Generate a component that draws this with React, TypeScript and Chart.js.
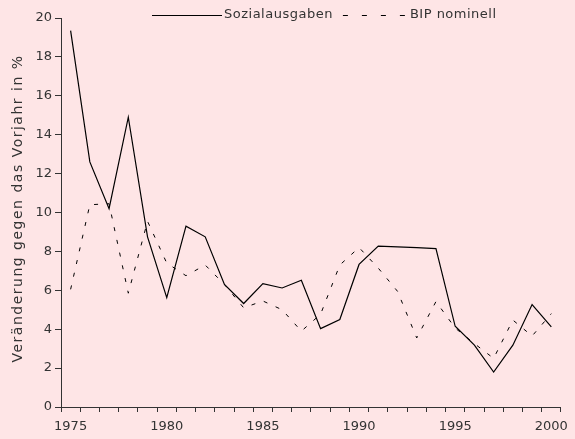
import React, { useEffect, useRef } from "react";
import { Chart, registerables } from "chart.js";

Chart.register(...registerables);

const years = [
  "1975", "1976", "1977", "1978", "1979", "1980", "1981", "1982", "1983", "1984",
  "1985", "1986", "1987", "1988", "1989", "1990", "1991", "1992", "1993", "1994",
  "1995", "1996", "1997", "1998", "1999", "2000",
];

const sozialausgaben = [
  19.35, 12.6, 10.2, 14.9, 8.75, 5.62, 9.3, 8.75, 6.3, 5.32,
  6.34, 6.12, 6.52, 4.03, 4.5, 7.33, 8.27, 8.23, 8.19, 8.14,
  4.15, 3.18, 1.8, 3.18, 5.27, 4.12,
];

const bipNominell = [
  6.05, 10.4, 10.45, 5.85, 9.55, 7.4, 6.75, 7.3, 6.3, 5.1,
  5.45, 5.0, 3.9, 4.77, 7.3, 8.2, 7.14, 5.95, 3.55, 5.42,
  4.06, 3.26, 2.5, 4.47, 3.65, 4.8,
];

const yTicks = [0, 2, 4, 6, 8, 10, 12, 14, 16, 18, 20];
const yTitle = "Veränderung gegen das Vorjahr in %";
const seriesNames = ["Sozialausgaben", "BIP nominell"];

const FONT = '"DejaVu Sans", sans-serif';
const TEXT = "#333333";
const AXIS = "#333333";
const BG = "#FEE5E6";

const legendPlugin = {
  id: "customLegend",
  afterDraw(chart: any) {
    const ctx = chart.ctx;
    ctx.save();
    ctx.font = `13px ${FONT}`;
    (ctx as any).letterSpacing = "0.5px";
    ctx.fillStyle = TEXT;
    ctx.textBaseline = "middle";
    const y = 15;
    let x = 152;
    chart.data.datasets.forEach((ds: any, i: number) => {
      const w = i === 0 ? 70 : 62;
      ctx.beginPath();
      ctx.setLineDash(i === 0 ? [] : [5, 14]);
      ctx.strokeStyle = "#000";
      ctx.lineWidth = 1;
      ctx.moveTo(x, y + 0.5);
      ctx.lineTo(x + w, y + 0.5);
      ctx.stroke();
      ctx.setLineDash([]);
      x += w + (i === 0 ? 2 : 5);
      ctx.fillText(ds.label, x, y);
      x += ctx.measureText(ds.label).width + 10;
    });
    ctx.restore();
  },
};

const yTitlePlugin = {
  id: "yTitle",
  afterDraw(chart: any) {
    const ctx = chart.ctx;
    const area = chart.chartArea;
    ctx.save();
    ctx.font = `14px ${FONT}`;
    (ctx as any).letterSpacing = "1.5px";
    ctx.fillStyle = TEXT;
    ctx.textAlign = "center";
    ctx.textBaseline = "middle";
    ctx.translate(18, (area.top + area.bottom) / 2 - 4);
    ctx.rotate(-Math.PI / 2);
    ctx.fillText(yTitle, 0, 0);
    ctx.restore();
  },
};

export default function App() {
  const ref = useRef<HTMLCanvasElement | null>(null);

  useEffect(() => {
    if (!ref.current) return;
    const chart = new Chart(ref.current, {
      type: "line",
      data: {
        labels: years,
        datasets: [
          {
            label: seriesNames[0],
            data: sozialausgaben,
            borderColor: "#000",
            borderWidth: 1.2,
            pointRadius: 0,
            tension: 0,
            fill: false,
          },
          {
            label: seriesNames[1],
            data: bipNominell,
            borderColor: "#000",
            borderWidth: 1,
            borderDash: [4, 9],
            pointRadius: 0,
            tension: 0,
            fill: false,
          },
        ],
      },
      options: {
        animation: false,
        responsive: false,
        maintainAspectRatio: false,
        layout: { padding: { top: 18, right: 7, left: 0, bottom: 0 } },
        plugins: {
          legend: { display: false },
          tooltip: { enabled: false },
        },
        scales: {
          x: {
            type: "category",
            offset: true,
            grid: {
              offset: true,
              drawOnChartArea: false,
              tickLength: 5,
              color: AXIS,
              lineWidth: 1,
            },
            border: { color: AXIS, width: 1 },
            ticks: {
              autoSkip: false,
              maxRotation: 0,
              minRotation: 0,
              padding: 7,
              color: TEXT,
              font: { family: FONT, size: 13 },
              callback: (_v: any, i: number) => (i % 5 === 0 ? years[i] : ""),
            },
            afterFit: (scale: any) => {
              scale.height = 32;
            },
          },
          y: {
            min: yTicks[0],
            max: yTicks[yTicks.length - 1],
            afterBuildTicks: (scale: any) => {
              scale.ticks = yTicks.map((v) => ({ value: v }));
            },
            grid: {
              drawOnChartArea: false,
              tickLength: 6,
              color: AXIS,
              lineWidth: 1,
            },
            border: { color: AXIS, width: 1 },
            ticks: {
              padding: 3,
              color: TEXT,
              font: { family: FONT, size: 13 },
            },
            afterFit: (scale: any) => {
              scale.width = 61;
            },
          },
        },
      },
      plugins: [legendPlugin, yTitlePlugin],
    });
    return () => chart.destroy();
  }, []);

  return (
    <div
      style={{
        position: "fixed",
        left: 0,
        top: 0,
        width: 575,
        height: 439,
        background: BG,
      }}
    >
      <canvas ref={ref} width={575} height={439} style={{ width: 575, height: 439, display: "block" }} />
    </div>
  );
}
